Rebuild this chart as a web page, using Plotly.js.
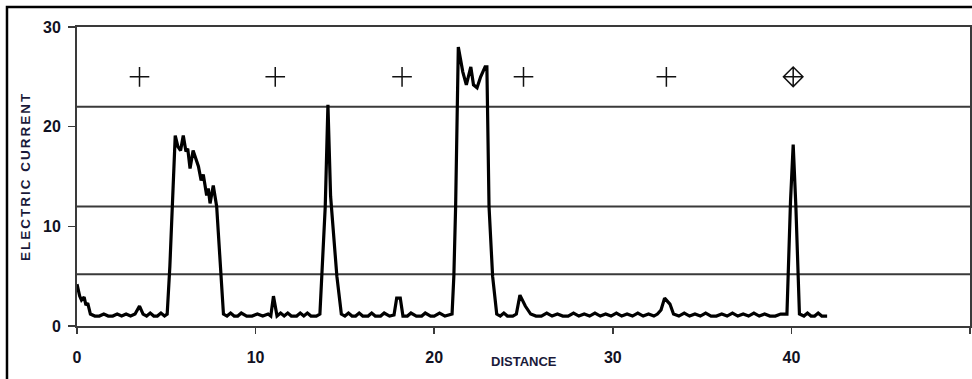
<!DOCTYPE html>
<html>
<head>
<meta charset="utf-8">
<script src="https://cdn.plot.ly/plotly-3.0.1.min.js"></script>
<style>
  html, body { margin: 0; padding: 0; background: #ffffff; }
  #chart { width: 972px; height: 379px; }
</style>
</head>
<body>
<div id="chart"></div>
<script>
// Measured trace: distance vs electric current
const distance = [
  0, 0.15, 0.25, 0.4, 0.5, 0.6, 0.75, 1.0, 1.25, 1.5, 1.75, 2.0, 2.25, 2.5, 2.75, 3.0, 3.25, 3.5, 3.7, 3.9,
  4.1, 4.3, 4.5, 4.7, 4.9, 5.05, 5.2, 5.35, 5.5, 5.65, 5.8, 5.95, 6.1, 6.2, 6.33, 6.5, 6.65, 6.8, 6.95, 7.07,
  7.26, 7.35, 7.45, 7.63, 7.82, 8.05, 8.2, 8.4, 8.6, 8.8, 9.0, 9.2, 9.5, 9.8, 10.1, 10.4, 10.7, 10.85, 11.0, 11.2,
  11.4, 11.6, 11.8, 12.0, 12.3, 12.5, 12.7, 12.9, 13.1, 13.4, 13.6, 13.9, 14.05, 14.2, 14.55, 14.8, 15.0, 15.2, 15.4, 15.6,
  15.8, 16.0, 16.3, 16.5, 16.7, 17.0, 17.2, 17.5, 17.75, 17.9, 18.1, 18.25, 18.5, 18.7, 19.0, 19.3, 19.5, 19.8, 20.0, 20.3,
  20.6, 21.0, 21.1, 21.2, 21.35, 21.6, 21.8, 22.05, 22.2, 22.4, 22.6, 22.85, 22.95, 23.07, 23.27, 23.5, 23.7, 23.9, 24.1, 24.4,
  24.6, 24.8, 25.1, 25.4, 25.7, 26.0, 26.3, 26.6, 26.9, 27.2, 27.5, 27.8, 28.1, 28.4, 28.7, 29.0, 29.3, 29.6, 29.9, 30.2,
  30.5, 30.8, 31.1, 31.4, 31.7, 32.0, 32.3, 32.5, 32.7, 32.9, 33.2, 33.4, 33.7, 34.0, 34.3, 34.6, 34.9, 35.2, 35.5, 35.8,
  36.1, 36.4, 36.7, 37.0, 37.3, 37.6, 37.9, 38.2, 38.5, 38.8, 39.1, 39.4, 39.75, 39.95, 40.1, 40.25, 40.45, 40.7, 40.9, 41.1,
  41.3, 41.5, 41.7, 42.0
];
const current = [
  4.2, 3.0, 2.6, 2.9, 2.1, 2.3, 1.2, 1.0, 1.0, 1.2, 1.0, 1.0, 1.2, 1.0, 1.2, 1.0, 1.2, 2.0, 1.2, 1.0,
  1.3, 1.0, 1.0, 1.3, 1.0, 1.2, 6.0, 13.0, 19.1, 18.0, 17.6, 19.1, 17.5, 17.8, 15.8, 17.6, 16.8, 16.0, 14.6, 15.2,
  13.1, 13.8, 12.3, 14.1, 12.0, 5.0, 1.2, 1.0, 1.3, 1.0, 1.0, 1.3, 1.0, 1.0, 1.2, 1.0, 1.2, 1.0, 3.0, 1.0,
  1.3, 1.0, 1.3, 1.0, 1.0, 1.3, 1.0, 1.3, 1.0, 1.0, 1.2, 12.0, 22.2, 13.0, 5.0, 1.2, 1.0, 1.3, 1.0, 1.0,
  1.3, 1.0, 1.0, 1.3, 1.0, 1.0, 1.3, 1.0, 1.1, 2.8, 2.8, 1.0, 1.0, 1.3, 1.0, 1.0, 1.3, 1.0, 1.0, 1.3,
  1.0, 1.2, 5.0, 12.0, 28.0, 25.5, 24.2, 26.0, 24.2, 23.9, 25.0, 26.0, 26.0, 12.0, 5.0, 1.2, 1.0, 1.3, 1.0, 1.0,
  1.2, 3.1, 2.0, 1.2, 1.0, 1.0, 1.3, 1.0, 1.2, 1.0, 1.0, 1.3, 1.0, 1.2, 1.0, 1.3, 1.0, 1.2, 1.0, 1.3,
  1.0, 1.2, 1.0, 1.3, 1.0, 1.2, 1.0, 1.2, 1.6, 2.8, 2.2, 1.2, 1.0, 1.3, 1.0, 1.2, 1.0, 1.3, 1.0, 1.0,
  1.2, 1.0, 1.3, 1.0, 1.2, 1.0, 1.3, 1.0, 1.2, 1.0, 1.0, 1.2, 1.2, 12.5, 18.2, 12.0, 1.2, 1.0, 1.3, 1.0,
  1.0, 1.3, 1.0, 1.0
];

// Location markers (plus signs) along the top band
const plusX = [3.5, 11.1, 18.2, 25.0, 33.0];
const plusY = [25, 25, 25, 25, 25];
const diamondX = [40.1];
const diamondY = [25];

// Horizontal reference levels
const refLevels = [5.2, 12, 22];

// Axis labels
const xTitle = 'DISTANCE';
const yTitle = 'ELECTRIC CURRENT';
const tickVals = [0, 10, 20, 30, 40, 50];
const yTickVals = [0, 10, 20, 30];

const traces = [
  {
    x: distance, y: current, type: 'scatter', mode: 'lines',
    line: { color: '#000000', width: 3.2 }, hoverinfo: 'skip', showlegend: false
  },
  {
    x: plusX, y: plusY, type: 'scatter', mode: 'markers',
    marker: { symbol: 'cross-thin-open', size: 14, color: '#111111', line: { color: '#111111', width: 1.5 } },
    showlegend: false
  },
  {
    x: diamondX, y: diamondY, type: 'scatter', mode: 'markers',
    marker: { symbol: 'diamond-cross-open', size: 15, color: '#111111', line: { color: '#111111', width: 1.5 } },
    showlegend: false
  }
];

const shapes = refLevels.map(v => ({
  type: 'line', xref: 'paper', yref: 'y', x0: 0, x1: 1, y0: v, y1: v,
  line: { color: '#3a3a3a', width: 2 }, layer: 'below'
}));
// Outer frame of the figure
shapes.push({
  type: 'rect', xref: 'paper', yref: 'paper',
  x0: -0.0784, x1: 1.3, y0: -0.6, y1: 1.0669,
  line: { color: '#000000', width: 2.5 }, fillcolor: 'rgba(0,0,0,0)'
});

const tickFont = { family: 'Liberation Sans, Arial, sans-serif', size: 16, color: '#111122', weight: 'bold' };

const layout = {
  width: 972, height: 379,
  margin: { l: 77, r: 2, t: 27, b: 53, pad: 0 },
  paper_bgcolor: '#ffffff', plot_bgcolor: '#ffffff',
  showlegend: false,
  font: { family: 'Liberation Sans, Arial, sans-serif', color: '#111122' },
  xaxis: {
    range: [0, 50], tickvals: tickVals, ticktext: tickVals.map(String),
    showgrid: false, zeroline: false,
    showline: true, linecolor: '#3a3a3a', linewidth: 2, mirror: true,
    ticks: 'outside', ticklen: 6, tickwidth: 1.5, tickcolor: '#3a3a3a',
    tickfont: tickFont,
    ticklabelstandoff: 10
  },
  yaxis: {
    range: [0, 30], tickvals: yTickVals, ticktext: yTickVals.map(String),
    showgrid: false, zeroline: false,
    showline: true, linecolor: '#3a3a3a', linewidth: 2, mirror: true,
    ticks: 'outside', ticklen: 7, tickwidth: 1.5, tickcolor: '#3a3a3a',
    tickfont: tickFont,
    ticklabelstandoff: 4,
    title: { text: yTitle, font: { size: 13.5, weight: 'bold', color: '#1a1a3a' }, standoff: 9 }
  },
  annotations: [{
    text: xTitle, xref: 'paper', yref: 'paper', x: 0.5, y: -0.12,
    xanchor: 'center', yanchor: 'middle', showarrow: false,
    font: { family: 'Liberation Sans, Arial, sans-serif', size: 13, weight: 'bold', color: '#1a1a3a' }
  }],
  shapes: shapes
};

Plotly.newPlot('chart', traces, layout, { displayModeBar: false, staticPlot: true }).then(gd => {
  const t = gd.querySelector('.ytitle');
  if (t) { t.style.letterSpacing = '2px'; }
});
</script>
</body>
</html>
